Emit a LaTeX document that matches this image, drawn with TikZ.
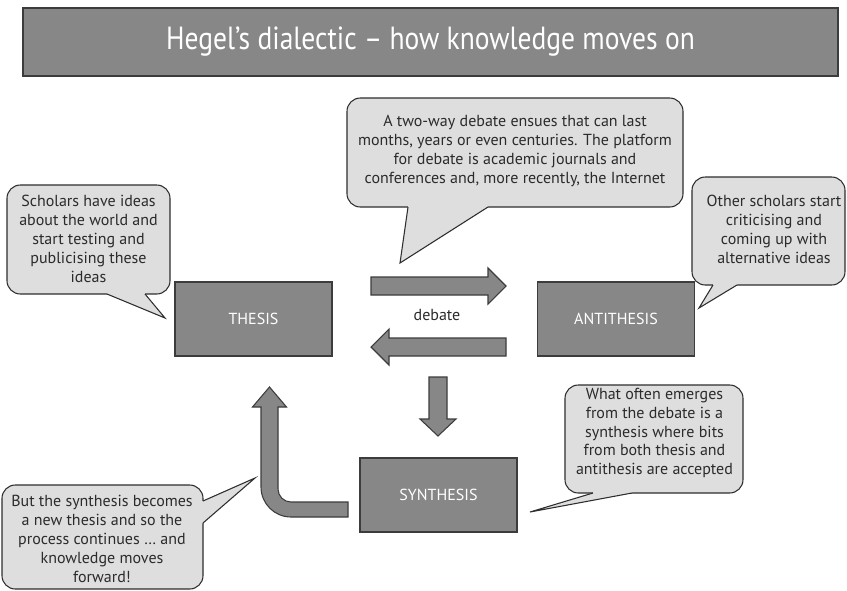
\documentclass[tikz,border=0pt]{standalone}
\usepackage{fontspec}
\setmainfont{PT Sans}
\newfontfamily\titlefont[FakeStretch=0.86]{PT Sans}
\definecolor{boxgray}{HTML}{878787}
\definecolor{edgegray}{HTML}{3C3C3C}
\definecolor{callfill}{HTML}{DEDEDE}
\definecolor{calledge}{HTML}{2E2E2E}
\definecolor{txtdark}{HTML}{2B2B2B}
\begin{document}
\begin{tikzpicture}[x=0.75pt,y=-0.75pt,
  mainbox/.style={draw=edgegray, fill=boxgray, line width=1pt, minimum width=117.75pt, minimum height=55.5pt, inner sep=0pt, text=white, font=\fontsize{12}{14}\selectfont},
  bubble/.style={draw=calledge, fill=callfill, line width=0.8pt, rounded corners=10pt},
  pointer/.style={draw=calledge, line width=0.8pt, line join=miter},
  bubtext/.style={align=center, text=txtdark, font=\fontsize{12}{14.2}\selectfont, inner sep=0pt},
  bigarrow/.style={draw=edgegray, fill=boxgray, line width=0.8pt, line join=miter},
]
\useasboundingbox (0,0) rectangle (847,590);
\fill[white] (0,0) rectangle (847,590);

% title
\node[draw=edgegray, fill=boxgray, line width=1pt, minimum width=611.25pt, minimum height=51pt, inner sep=0pt, text=white] (title) at (430.5,42)
  {\titlefont\fontsize{24}{28}\selectfont Hegel’s dialectic – how knowledge moves on};

% main boxes
\node[mainbox] (thesis) at (253.5,319) {THESIS};
\node[mainbox] (antithesis) at (616,319) {ANTITHESIS};
\node[mainbox] (synthesis) at (438.5,495) {SYNTHESIS};

% debate arrows
\draw[bigarrow] (371,277) -- (488,277) -- (488,268) -- (506,286) -- (488,304) -- (488,295) -- (371,295) -- cycle;
\draw[bigarrow] (506,338) -- (389,338) -- (389,329) -- (371,347) -- (389,365) -- (389,356) -- (506,356) -- cycle;
\node[text=txtdark, font=\fontsize{12}{14}\selectfont] (debate) at (437,315) {debate};
\draw[bigarrow] (429,377) -- (447,377) -- (447,419) -- (456,419) -- (438,436) -- (420,419) -- (429,419) -- cycle;

% return arrow
\draw[bigarrow] (348,502) -- (291,502) arc[start angle=90, end angle=180, radius=13] -- (278,407) -- (286.5,407) -- (269.5,387) -- (252.5,407) -- (261,407) -- (261,487) arc[start angle=180, end angle=90, radius=30] -- (348,517) -- cycle;

% callout 1 (thesis)
\coordinate (tip1) at (165,318);
\draw[bubble] (7,185) rectangle (170,294);
\fill[callfill] (107,291) -- (107,294) -- (tip1) -- (145,294) -- (145,291) -- cycle;
\draw[pointer] (107,294) -- (tip1) -- (145,294);
\node[bubtext] (c1) at (88.5,239) {Scholars have ideas\\about the world and\\start testing and\\publicising these\\ideas};

% callout 2 (debate)
\coordinate (tip2) at (400,263);
\draw[bubble] (347,98) rectangle (683,207);
\fill[callfill] (408,204) -- (408,207) -- (tip2) -- (488,207) -- (488,204) -- cycle;
\draw[pointer] (408,207) -- (tip2) -- (488,207);
\node[bubtext] (c2) at (515,151) {A two-way debate ensues that can last\\months, years or even centuries. The platform\\for debate is academic journals and\\conferences and, more recently, the Internet};

% callout 3 (antithesis)
\coordinate (tip3) at (699,308);
\draw[bubble] (692,177) rectangle (845,285);
\fill[callfill] (713,282) -- (713,285) -- (tip3) -- (737,285) -- (737,282) -- cycle;
\draw[pointer] (713,285) -- (tip3) -- (737,285);
\node[bubtext] (c3) at (774,229) {Other scholars start\\criticising and\\coming up with\\alternative ideas};

% callout 4 (synthesis)
\coordinate (tip4) at (530,512);
\draw[bubble] (565,385) rectangle (743,493);
\fill[callfill] (593,490) -- (593,493) -- (tip4) -- (632,493) -- (632,490) -- cycle;
\draw[pointer] (593,493) -- (tip4) -- (632,493);
\node[bubtext] (c4) at (654.5,433) {What often emerges\\from the debate is a\\synthesis where bits\\from both thesis and\\antithesis are accepted};

% callout 5 (return)
\coordinate (tip5) at (255,478);
\draw[bubble] (2,485) rectangle (203,589);
\fill[callfill] (200,501) -- (203,501) -- (tip5) -- (203,523) -- (200,523) -- cycle;
\draw[pointer] (203,501) -- (tip5) -- (203,523);
\node[bubtext] (c5) at (102,539) {But the synthesis becomes\\a new thesis and so the\\process continues … and\\knowledge moves\\forward!};
\end{tikzpicture}
\end{document}
